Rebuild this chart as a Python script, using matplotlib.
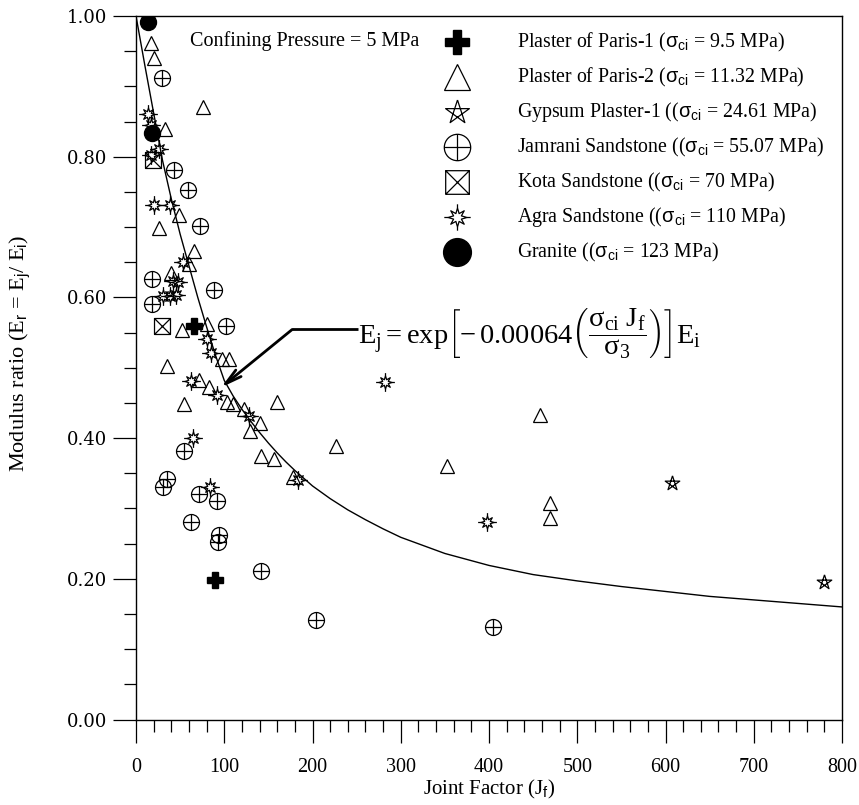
import numpy as np
import matplotlib
matplotlib.use("Agg")
import matplotlib.pyplot as plt
from matplotlib.path import Path
from matplotlib.lines import Line2D
from matplotlib.ticker import MultipleLocator, FormatStrFormatter

plt.rcParams['font.family'] = ['Liberation Serif', 'DejaVu Serif']
plt.rcParams['mathtext.fontset'] = 'custom'
plt.rcParams['mathtext.rm'] = 'Liberation Serif'
plt.rcParams['mathtext.it'] = 'Liberation Serif:italic'
plt.rcParams['mathtext.sf'] = 'Liberation Sans'

# ---- measured data (Joint factor Jf, modulus ratio Er) ----
plaster1_jf = [66, 90]
plaster1_er = [0.560, 0.198]

plaster2_jf = [17, 20, 76, 33, 49, 26, 66, 60, 40, 52, 81, 35, 98, 105, 71, 83,
               54, 103, 110, 122, 140, 129, 160, 142, 156, 178, 227, 352, 458,
               469, 469]
plaster2_er = [0.962, 0.941, 0.871, 0.840, 0.717, 0.698, 0.666, 0.647, 0.635,
               0.553, 0.562, 0.502, 0.513, 0.513, 0.482, 0.473, 0.448, 0.452,
               0.448, 0.442, 0.422, 0.410, 0.452, 0.375, 0.370, 0.344, 0.389,
               0.361, 0.433, 0.308, 0.287]

gypsum_jf = [607, 780]
gypsum_er = [0.336, 0.195]

jamrani_jf = [29, 43, 59, 73, 18.5, 88, 18.5, 102, 54, 35.5, 31, 71, 91.5, 62,
              94.5, 93, 142, 204, 405]
jamrani_er = [0.912, 0.781, 0.752, 0.701, 0.626, 0.611, 0.591, 0.560, 0.381,
              0.342, 0.331, 0.321, 0.311, 0.281, 0.262, 0.252, 0.211, 0.141,
              0.132]

kota_jf = [19, 30]
kota_er = [0.796, 0.560]

agra_jf = [14, 17, 26, 17, 20, 39, 53, 42, 48, 31, 38.5, 45, 80, 85, 62, 92,
           128, 65, 84, 184, 282, 398]
agra_er = [0.860, 0.845, 0.811, 0.802, 0.731, 0.731, 0.651, 0.623, 0.622,
           0.602, 0.602, 0.603, 0.541, 0.521, 0.481, 0.461, 0.431, 0.400,
           0.331, 0.341, 0.480, 0.281]

granite_jf = [14, 18]
granite_er = [0.991, 0.834]

# fitted trend line
fit_jf = [0, 10, 20, 30, 40, 50, 60, 70, 80, 90, 100, 110, 120, 130, 140, 150,
          160, 170, 180, 190, 200, 220, 240, 260, 280, 300, 350, 400, 450, 500,
          550, 600, 650, 700, 750, 800]
fit_er = [1.000, 0.930, 0.862, 0.795, 0.740, 0.690, 0.645, 0.600, 0.558,
          0.518, 0.482, 0.460, 0.441, 0.424, 0.408, 0.393, 0.379, 0.366,
          0.354, 0.343, 0.332, 0.314, 0.298, 0.284, 0.271, 0.259, 0.236,
          0.219, 0.206, 0.197, 0.189, 0.182, 0.175, 0.170, 0.165, 0.160]

x_ticks = [0, 100, 200, 300, 400, 500, 600, 700, 800]
y_ticks = [0.0, 0.2, 0.4, 0.6, 0.8, 1.0]


# ---- custom marker shapes ----
M, L = Path.MOVETO, Path.LINETO

def circle_plus():
    cross = Path([(-1, 0), (1, 0), (0, -1), (0, 1)], [M, L, M, L])
    return Path.make_compound_path(Path.unit_circle(), cross)

def square_x():
    v = [(-1, -1), (1, -1), (1, 1), (-1, 1), (-1, -1),
         (-1, -1), (1, 1), (-1, 1), (1, -1)]
    c = [M, L, L, L, L, M, L, M, L]
    return Path(v, c)

def pentagram():
    ang = np.deg2rad(90 + 72 * np.array([0, 2, 4, 1, 3, 0]))
    v = np.column_stack([np.cos(ang), np.sin(ang)])
    return Path(v, [M] + [L] * 5)

def burst():
    # eight-point star outline with long vertical and horizontal spikes
    n = 8
    pts = []
    for k in range(2 * n):
        a = np.deg2rad(90 + k * 180 / n)
        r = 0.72 if k % 2 == 0 else 0.32
        pts.append((r * np.cos(a), r * np.sin(a)))
    pts.append(pts[0])
    star = Path(pts, [M] + [L] * (len(pts) - 1))
    spikes = Path([(0, 0.72), (0, 1.0), (0, -0.72), (0, -1.0),
                   (-0.72, 0), (-1.0, 0), (0.72, 0), (1.0, 0)],
                  [M, L, M, L, M, L, M, L])
    return Path.make_compound_path(star, spikes)

mk_cplus = circle_plus()
mk_sqx = square_x()
mk_pent = pentagram()
mk_burst = burst()

fig = plt.figure(figsize=(8.59, 8.05), dpi=100)
ax = fig.add_axes([136 / 859, 1 - 719.5 / 805, (842 - 136) / 859, (719.5 - 16) / 805])

ax.plot(fit_jf, fit_er, color='black', lw=1.0, zorder=2)

ekw = dict(linestyle='none', color='black', mfc='none', mew=0.9, zorder=3)
ax.plot(plaster2_jf, plaster2_er, marker='^', ms=10, **ekw)
ax.plot(jamrani_jf, jamrani_er, marker=mk_cplus, ms=11.5, **ekw)
ax.plot(kota_jf, kota_er, marker=mk_sqx, ms=11.5, **ekw)
ax.plot(agra_jf, agra_er, marker=mk_burst, ms=13.5, **ekw)
ax.plot(gypsum_jf, gypsum_er, marker=mk_pent, ms=11, **ekw)
ax.plot(plaster1_jf, plaster1_er, linestyle='none', marker='P', ms=12,
        color='black', mec='black', zorder=4)
ax.plot(granite_jf, granite_er, linestyle='none', marker='o', ms=11.5,
        color='black', zorder=4)

ax.set_xlim(0, 800)
ax.set_ylim(0, 1.0)
ax.xaxis.set_minor_locator(MultipleLocator(20))
ax.yaxis.set_minor_locator(MultipleLocator(0.05))
ax.set_xticks(x_ticks)
ax.set_yticks(y_ticks)
ax.yaxis.set_major_formatter(FormatStrFormatter('%.2f'))
ax.tick_params(which='both', direction='out', top=False, right=False, width=0.9)
ax.tick_params(which='major', length=16.5)
ax.tick_params(which='minor', length=8.5)
ax.tick_params(axis='x', labelsize=14.5, pad=11)
ax.tick_params(axis='y', labelsize=13, pad=4)
for lab in ax.get_yticklabels():
    lab.set_family('DejaVu Serif')
for s in ax.spines.values():
    s.set_linewidth(1.0)

ax.set_xlabel('Joint Factor (J$_\\mathsf{f}$)', fontsize=15, labelpad=1)
ax.set_ylabel('Modulus ratio (E$_\\mathsf{r}$ = E$_\\mathsf{j}$/ E$_\\mathsf{i}$)',
              fontsize=16)
ax.yaxis.set_label_coords(-0.148, 0.52)

ax.text(61, 0.9645, 'Confining Pressure = 5 MPa', fontsize=14.5,
        va='center', ha='left')

# legend, laid out row by row in figure pixels
legend_items = [
    (dict(marker='P', ms=17, color='black'),
     'Plaster of Paris-1 ($\\mathsf{\\sigma_{ci}}$ = 9.5 MPa)'),
    (dict(marker='^', ms=19, color='black', mfc='none', mew=0.9),
     'Plaster of Paris-2 ($\\mathsf{\\sigma_{ci}}$ = 11.32 MPa)'),
    (dict(marker=mk_pent, ms=18, color='black', mfc='none', mew=0.9),
     'Gypsum Plaster-1 (($\\mathsf{\\sigma_{ci}}$ = 24.61 MPa)'),
    (dict(marker=mk_cplus, ms=19, color='black', mfc='none', mew=0.9),
     'Jamrani Sandstone (($\\mathsf{\\sigma_{ci}}$ = 55.07 MPa)'),
    (dict(marker=mk_sqx, ms=17, color='black', mfc='none', mew=0.9),
     'Kota Sandstone (($\\mathsf{\\sigma_{ci}}$ = 70 MPa)'),
    (dict(marker=mk_burst, ms=19, color='black', mfc='none', mew=0.9),
     'Agra Sandstone (($\\mathsf{\\sigma_{ci}}$ = 110 MPa)'),
    (dict(marker='o', ms=20, color='black'),
     'Granite (($\\mathsf{\\sigma_{ci}}$ = 123 MPa)'),
]
W, H = 859.0, 805.0
for i, (style, text) in enumerate(legend_items):
    yf = 1 - (42 + 35 * i) / H
    fig.add_artist(Line2D([457 / W], [yf], linestyle='none',
                          transform=fig.transFigure, **style))
    fig.text(517 / W, yf, text, fontsize=14.3, va='center', ha='left')

# equation with leader arrow
ax.plot([177, 251], [0.5544, 0.5544], color='black', lw=2.0, solid_capstyle='butt')
ax.annotate('', xy=(96.4, 0.472), xytext=(177, 0.5544),
            arrowprops=dict(arrowstyle='->,head_length=1.2,head_width=0.3',
                            color='black', lw=2.0, shrinkA=0, shrinkB=0))
ax.text(252, 0.548,
        r'$\mathrm{E_j = exp}\left[\mathrm{-\,0.00064}\left(\dfrac{\mathrm{\sigma_{ci}\ J_f}}{\mathrm{\sigma_3}}\right)\right]\mathrm{E_i}$',
        fontsize=20.5, va='center', ha='left')

fig.savefig('out.png', dpi=100)
